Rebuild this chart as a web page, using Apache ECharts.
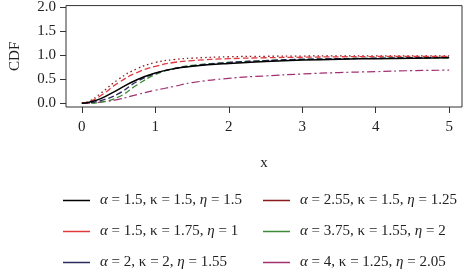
<!DOCTYPE html>
<html>
<head>
<meta charset="utf-8">
<script src="https://cdn.jsdelivr.net/npm/echarts@6/dist/echarts.min.js"></script>
<style>
  html, body { margin: 0; padding: 0; background: #fff; }
  #container { width: 469px; height: 270px; }
</style>
</head>
<body>
<div id="container"></div>
<script>
  // x grid where the curves were read
  const xs = [0, 0.1, 0.25, 0.5, 0.75, 1, 1.25, 1.5, 2, 2.5, 3, 3.5, 4, 4.5, 5];

  const names = [
    'α = 1.5, κ = 1.5, η = 1.5',
    'α = 1.5, κ = 1.75, η = 1',
    'α = 2, κ = 2, η = 1.55',
    'α = 2.55, κ = 1.5, η = 1.25',
    'α = 3.75, κ = 1.55, η = 2',
    'α = 4, κ = 1.25, η = 2.05'
  ];

  const cdf1 = [0, 0.02, 0.09, 0.29, 0.49, 0.63, 0.72, 0.77, 0.83, 0.87, 0.90, 0.92, 0.93, 0.94, 0.95];
  const cdf2 = [0, 0.03, 0.15, 0.43, 0.64, 0.77, 0.85, 0.89, 0.93, 0.95, 0.96, 0.97, 0.975, 0.98, 0.98];
  const cdf3 = [0, 0.01, 0.05, 0.20, 0.45, 0.62, 0.72, 0.78, 0.85, 0.89, 0.92, 0.93, 0.94, 0.95, 0.96];
  const cdf4 = [0, 0.04, 0.20, 0.50, 0.72, 0.85, 0.91, 0.94, 0.97, 0.98, 0.985, 0.99, 0.99, 0.99, 0.99];
  const cdf5 = [0, 0.00, 0.02, 0.13, 0.38, 0.60, 0.72, 0.79, 0.85, 0.89, 0.91, 0.93, 0.94, 0.95, 0.95];
  const cdf6 = [0, 0.00, 0.02, 0.08, 0.18, 0.27, 0.35, 0.43, 0.52, 0.57, 0.61, 0.64, 0.66, 0.68, 0.69];

  const xTicks = [0, 1, 2, 3, 4, 5];
  const yTicks = [0, 0.5, 1, 1.5, 2];

  const colors = ['#000000', '#e0393e', '#2b2b5e', '#8b1a1a', '#3a8a3a', '#a03070'];
  const dashes = ['solid', [6, 3], [6, 3], [1.5, 3], [6, 3], [8, 3, 2, 3]];
  const widths = [1.5, 1.3, 1.3, 1.3, 1.3, 1.2];

  const FONT = '"Liberation Serif", "DejaVu Serif", serif';

  function pairs(ys) {
    return xs.map((x, i) => [x, ys[i]]);
  }

  const chart = echarts.init(document.getElementById('container'));

  const allData = [cdf1, cdf2, cdf3, cdf4, cdf5, cdf6];
  const series = allData.map((ys, i) => ({
    name: names[i],
    type: 'line',
    data: pairs(ys),
    smooth: true,
    showSymbol: false,
    color: colors[i],
    lineStyle: { color: colors[i], width: widths[i], type: dashes[i] },
    z: 10 - i
  }));

  const legendBase = {
    orient: 'vertical',
    icon: 'rect',
    padding: 0,
    itemWidth: 27,
    itemHeight: 1.5,
    itemGap: 16,
    height: 100,
    // greek letters in italic, like the original
    formatter: n => n.replace(/([αη])/g, '{g|$1}'),
    textStyle: {
      fontFamily: FONT, fontSize: 15, color: '#222', padding: [0, 0, 0, 5],
      rich: { g: { fontFamily: FONT, fontSize: 15, fontStyle: 'italic', color: '#222' } }
    }
  };

  chart.setOption({
    animation: false,
    textStyle: { fontFamily: FONT },
    grid: {
      left: 62, right: 7, top: 3, bottom: 163,
      show: true, borderColor: '#333', borderWidth: 1
    },
    xAxis: {
      type: 'value',
      min: -0.216, max: 5.175,
      name: 'x',
      nameLocation: 'middle',
      nameGap: 49,
      nameTextStyle: { fontFamily: FONT, fontSize: 15, color: '#222' },
      axisLine: { show: false, onZero: false },
      splitLine: { show: false },
      axisTick: { show: true, length: 6, customValues: xTicks, lineStyle: { color: '#333' } },
      axisLabel: { customValues: xTicks, margin: 13, fontFamily: FONT, fontSize: 15, color: '#222' }
    },
    yAxis: {
      type: 'value',
      min: -0.08, max: 2.04,
      name: 'CDF',
      nameLocation: 'middle',
      nameGap: 43,
      nameTextStyle: { fontFamily: FONT, fontSize: 15, color: '#222' },
      axisLine: { show: false, onZero: false },
      splitLine: { show: false },
      axisTick: { show: true, length: 6, customValues: yTicks, lineStyle: { color: '#333' } },
      axisLabel: {
        customValues: yTicks, margin: 10, fontFamily: FONT, fontSize: 15, color: '#222',
        formatter: v => v.toFixed(1)
      }
    },
    legend: [
      Object.assign({}, legendBase, { left: 63, top: 193, data: names.slice(0, 3) }),
      Object.assign({}, legendBase, { left: 263, top: 193, data: names.slice(3, 6) })
    ],
    series
  });
</script>
</body>
</html>
